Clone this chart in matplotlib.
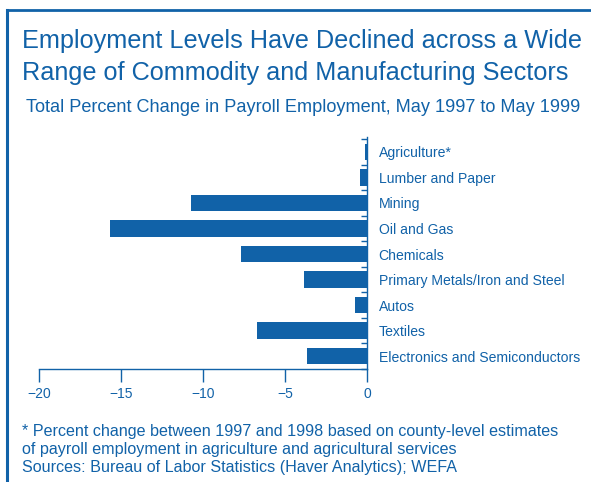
import matplotlib
matplotlib.use("Agg")
import matplotlib.pyplot as plt
from matplotlib.lines import Line2D

sectors = ["Agriculture*", "Lumber and Paper", "Mining", "Oil and Gas", "Chemicals",
           "Primary Metals/Iron and Steel", "Autos", "Textiles",
           "Electronics and Semiconductors"]
pct_change = [-0.15, -0.45, -10.75, -15.7, -7.7, -3.85, -0.75, -6.75, -3.7]
x_ticks = [-20, -15, -10, -5, 0]
x_labels = ["\u221220", "\u221215", "\u221210", "\u22125", "0"]

blue = "#1162a8"
plt.rcParams["font.family"] = ["Liberation Sans", "DejaVu Sans"]

fig = plt.figure(figsize=(5.91, 4.82), dpi=100)
ax = fig.add_axes([39.5 / 591, 1 - 369 / 482, 328 / 591, 232 / 482])

pos = list(range(len(sectors)))
ax.barh(pos, pct_change, height=0.64, color=blue)
ax.set_xlim(-20, 0)
ax.set_ylim(8.32, -0.58)

ax.yaxis.tick_right()
ax.set_yticks(pos)
ax.set_yticklabels(sectors, color=blue, fontsize=10.1)
ax.tick_params(axis="y", length=0, pad=8)
ax.set_yticks([p - 0.5 for p in pos] + [8.5], minor=True)
ax.tick_params(axis="y", which="minor", left=False, right=True, direction="in",
               length=4, color=blue, width=1)

ax.set_xticks(x_ticks)
ax.set_xticklabels(x_labels, color=blue, fontsize=10)
ax.tick_params(axis="x", length=9, color=blue, width=1, direction="out", pad=4)

for side in ["top", "left"]:
    ax.spines[side].set_visible(False)
for side in ["right", "bottom"]:
    ax.spines[side].set_color(blue)
    ax.spines[side].set_linewidth(1)

# frame lines (left and top)
fig.add_artist(Line2D([6.5 / 591, 6.5 / 591], [0, 1 - 10 / 482], color=blue, lw=2.2,
                      transform=fig.transFigure))
fig.add_artist(Line2D([6.5 / 591, 1], [1 - 10 / 482, 1 - 10 / 482], color=blue, lw=2,
                      transform=fig.transFigure))

fig.text(22 / 591, 1 - 41 / 482, "Employment Levels Have Declined across a Wide",
         color=blue, fontsize=18.15, va="center")
fig.text(22 / 591, 1 - 73 / 482, "Range of Commodity and Manufacturing Sectors",
         color=blue, fontsize=18.15, va="center")
fig.text(26 / 591, 1 - 108 / 482,
         "Total Percent Change in Payroll Employment, May 1997 to May 1999",
         color=blue, fontsize=13.1, va="center")

foot = ("* Percent change between 1997 and 1998 based on county-level estimates\n"
        "of payroll employment in agriculture and agricultural services\n"
        "Sources: Bureau of Labor Statistics (Haver Analytics); WEFA")
fig.text(22 / 591, 1 - 424 / 482, foot, color=blue, fontsize=11.65, va="top",
         linespacing=1.27)

fig.savefig("out.png", dpi=100)
